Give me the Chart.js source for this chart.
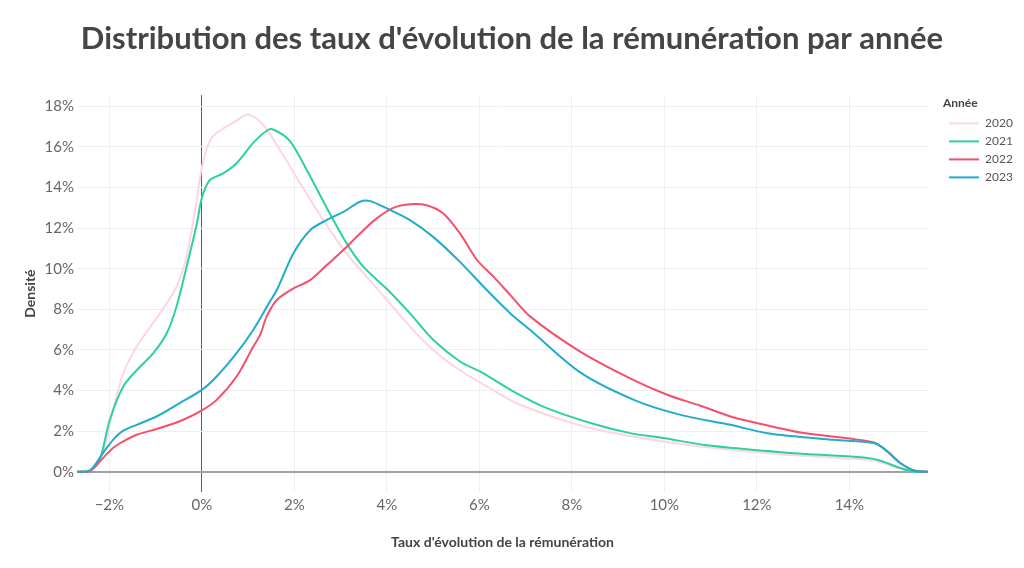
<!DOCTYPE html>
<html>
<head>
<meta charset="utf-8">
<script src="https://cdn.jsdelivr.net/npm/chart.js@4"></script>
<style>
  html, body { margin: 0; padding: 0; background: #fff; }
  #wrap { width: 1024px; height: 568px; }
</style>
</head>
<body>
<div id="wrap"><canvas id="c" width="1024" height="568"></canvas></div>
<script>
const years = ['2020', '2021', '2022', '2023'];
const colors = ['#ffd6e0', '#2bd1a5', '#f4506e', '#21abcd'];

const x2020 = [-2.7, -2.42, -2.14, -1.92, -1.70, -1.41, -0.91, -0.55, -0.33, -0.11, 0, 0.17, 0.32, 0.75, 1.0, 1.33, 1.69, 2.05, 2.4, 2.77, 3.13, 3.49, 4.0, 4.5, 5.0, 5.58, 6.16, 6.88, 8.4, 9.98, 11.43, 12.58, 14.17, 14.6, 15.1, 15.4, 15.7];
const y2020 = [0, 0.06, 0.92, 3.05, 4.85, 6.16, 7.8, 9.1, 10.6, 13.4, 15.0, 16.3, 16.7, 17.3, 17.6, 17.07, 15.84, 14.5, 13.2, 11.9, 10.75, 9.8, 8.46, 7.15, 6.0, 5.0, 4.2, 3.3, 2.15, 1.49, 1.08, 0.85, 0.62, 0.5, 0.15, 0.0, 0];

const x2021 = [-2.7, -2.42, -2.21, -1.99, -1.70, -1.41, -1.05, -0.76, -0.55, -0.33, -0.11, 0, 0.17, 0.46, 0.75, 1.11, 1.4, 1.54, 1.9, 2.27, 2.77, 3.13, 3.49, 4.0, 4.5, 5.0, 5.58, 6.02, 6.74, 7.46, 8.4, 9.26, 9.98, 10.92, 12.58, 14.17, 14.6, 15.1, 15.4, 15.7];
const y2021 = [0, 0.06, 0.59, 2.56, 4.2, 5.0, 5.84, 6.82, 8.13, 10.1, 12.2, 13.5, 14.36, 14.7, 15.2, 16.2, 16.8, 16.86, 16.3, 14.85, 12.7, 11.25, 10.1, 9.0, 7.8, 6.5, 5.43, 4.93, 3.95, 3.13, 2.4, 1.9, 1.66, 1.3, 0.95, 0.72, 0.59, 0.18, 0.0, 0];

const x2022 = [-2.7, -2.42, -2.14, -1.92, -1.70, -1.41, -0.91, -0.40, 0, 0.32, 0.75, 1.11, 1.26, 1.40, 1.62, 1.98, 2.34, 2.70, 3.06, 3.42, 3.78, 4.14, 4.5, 4.86, 5.22, 5.58, 5.95, 6.31, 6.67, 7.1, 8.18, 9.26, 10.06, 10.78, 11.43, 11.86, 12.94, 14.53, 14.82, 15.1, 15.4, 15.7];
const y2022 = [0, 0.03, 0.67, 1.17, 1.49, 1.82, 2.15, 2.56, 3.02, 3.54, 4.69, 6.16, 6.74, 7.64, 8.46, 9.03, 9.44, 10.18, 10.92, 11.74, 12.48, 13.0, 13.18, 13.13, 12.72, 11.74, 10.43, 9.6, 8.7, 7.64, 5.92, 4.6, 3.79, 3.25, 2.72, 2.47, 1.93, 1.44, 1.0, 0.43, 0.06, 0];

const x2023 = [-2.7, -2.42, -2.14, -1.92, -1.70, -1.41, -0.98, -0.48, 0, 0.32, 0.75, 1.11, 1.47, 1.62, 1.98, 2.34, 2.70, 3.06, 3.42, 3.64, 4.0, 4.5, 5.0, 5.58, 6.16, 6.67, 7.1, 8.18, 9.34, 10.35, 11.43, 12.22, 13.66, 14.53, 14.82, 15.1, 15.4, 15.7];
const y2023 = [0, 0.06, 0.92, 1.57, 2.02, 2.31, 2.72, 3.38, 4.03, 4.69, 5.84, 6.98, 8.38, 8.95, 10.76, 11.9, 12.4, 12.8, 13.3, 13.33, 12.97, 12.4, 11.57, 10.34, 8.95, 7.8, 6.98, 4.89, 3.54, 2.8, 2.31, 1.9, 1.57, 1.41, 1.0, 0.43, 0.06, 0];

const xTicks = [-2, 0, 2, 4, 6, 8, 10, 12, 14];
const yTicks = [0, 2, 4, 6, 8, 10, 12, 14, 16, 18];

const xs = [x2020, x2021, x2022, x2023];
const ys = [y2020, y2021, y2022, y2023];

Chart.defaults.font.family = 'Lato, "Open Sans", sans-serif';

const datasets = years.map((yr, i) => ({
  label: yr,
  data: xs[i].map((x, j) => ({ x: x, y: ys[i][j] })),
  borderColor: colors[i],
  backgroundColor: colors[i],
  borderWidth: 2,
  pointRadius: 0,
  pointHoverRadius: 0,
  tension: 0.3,
  fill: false,
  order: 4 - i
}));

const legendWidthPlugin = {
  id: 'legendWidth',
  beforeLayout(chart) {
    const lg = chart.legend;
    if (lg && !lg._patched) {
      const origFit = lg.fit;
      lg.fit = function () { origFit.call(this); this.width = 96; };
      const origDraw = lg.draw;
      lg.draw = function () {
        const ctx = this.ctx;
        ctx.save();
        ctx.translate(15, 0);
        origDraw.call(this);
        ctx.restore();
      };
      lg._patched = true;
    }
  }
};

new Chart(document.getElementById('c'), {
  type: 'line',
  data: { datasets },
  options: {
    responsive: false,
    animation: false,
    parsing: true,
    layout: { padding: { left: 0, right: 0, top: 0, bottom: 0 } },
    plugins: {
      title: {
        display: true,
        text: "Distribution des taux d'évolution de la rémunération par année",
        color: '#454545',
        font: { size: 31, weight: 'bold' },
        padding: { top: 20, bottom: 38 }
      },
      legend: {
        position: 'right',
        align: 'start',
        title: {
          display: true,
          text: 'Année',
          position: 'start',
          color: '#444',
          font: { size: 12, weight: 'bold' },
          padding: { top: 97, bottom: 0 }
        },
        labels: {
          boxWidth: 30,
          boxHeight: 2,
          padding: 6,
          color: '#555',
          font: { size: 12 },
          generateLabels(chart) {
            return chart.data.datasets.map((d, i) => ({
              text: d.label,
              fillStyle: d.borderColor,
              strokeStyle: d.borderColor,
              lineWidth: 0,
              hidden: false,
              datasetIndex: i,
              fontColor: '#555'
            }));
          }
        }
      },
      tooltip: { enabled: false }
    },
    scales: {
      x: {
        type: 'linear',
        min: -2.7,
        max: 15.7,
        afterBuildTicks(s) { s.ticks = xTicks.map(v => ({ value: v })); },
        afterFit(s) { s.height = 76; },
        ticks: {
          color: '#666',
          font: { size: 15 },
          padding: 4,
          callback: v => (v < 0 ? '\u2212' + Math.abs(v) : v) + '%'
        },
        grid: {
          drawTicks: false,
          color: c => (c.tick && c.tick.value === 0 ? '#5f5f5f' : '#efefef'),
          lineWidth: 1
        },
        border: { display: false },
        title: {
          display: true,
          text: "Taux d'évolution de la rémunération",
          color: '#444',
          font: { size: 14, weight: 'bold' },
          padding: { top: 0, bottom: 17 }
        }
      },
      y: {
        type: 'linear',
        min: -1,
        max: 18.55,
        afterBuildTicks(s) { s.ticks = yTicks.map(v => ({ value: v })); },
        afterFit(s) { s.width = 77; },
        ticks: {
          color: '#666',
          font: { size: 15 },
          padding: 3,
          callback: v => v + '%'
        },
        grid: {
          drawTicks: false,
          color: c => (c.tick && c.tick.value === 0 ? '#a0a0a0' : '#efefef'),
          lineWidth: c => (c.tick && c.tick.value === 0 ? 2 : 1)
        },
        border: { display: false },
        title: {
          display: true,
          text: 'Densité',
          color: '#444',
          font: { size: 14, weight: 'bold' },
          padding: { top: 22, bottom: 0 }
        }
      }
    }
  },
  plugins: [legendWidthPlugin]
});
</script>
</body>
</html>
